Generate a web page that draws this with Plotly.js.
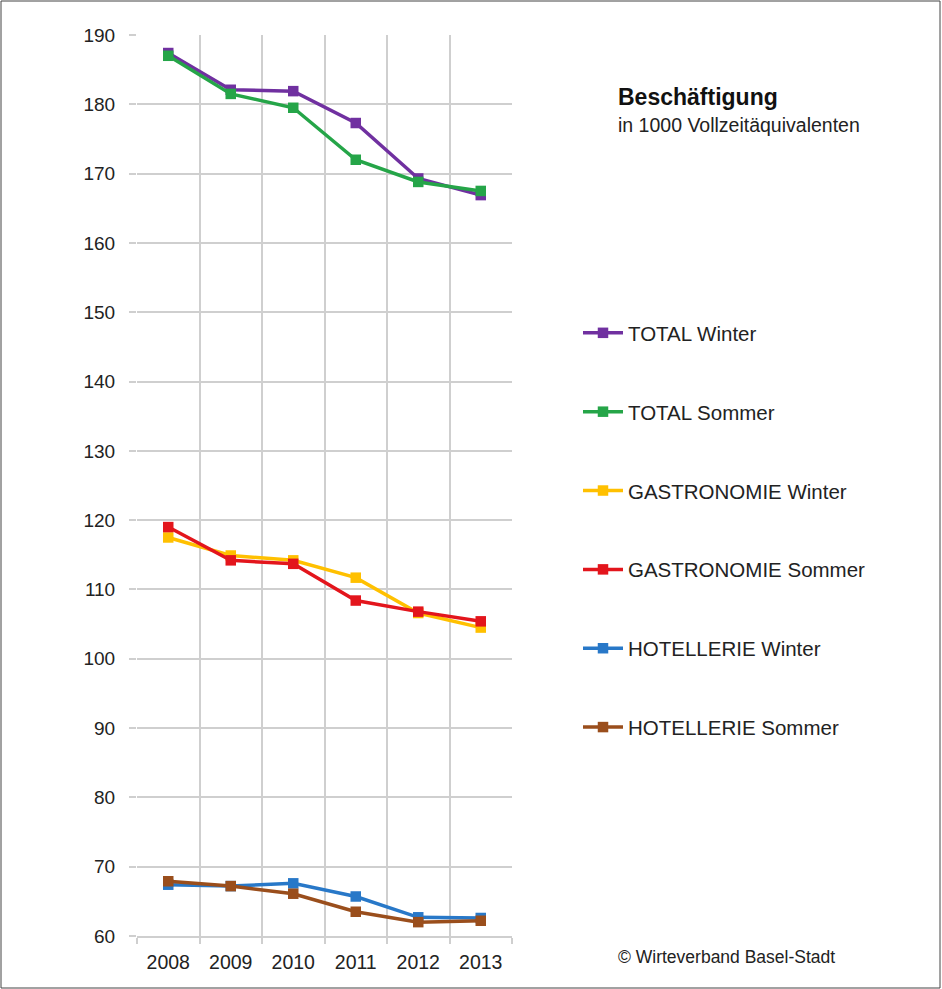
<!DOCTYPE html>
<html><head><meta charset="utf-8">
<script src="https://cdn.plot.ly/plotly-3.0.1.min.js"></script>
<style>html,body{margin:0;padding:0;background:#fff}</style>
</head><body>
<div id="chart" style="width:942px;height:989px"></div>
<script>
const years = ["2008","2009","2010","2011","2012","2013"];
const totalWinter = [187.4, 182.1, 181.9, 177.3, 169.3, 166.9];
const totalSommer = [187.0, 181.5, 179.5, 172.0, 168.8, 167.5];
const gastroWinter = [117.5, 114.9, 114.2, 111.7, 106.6, 104.5];
const gastroSommer = [119.0, 114.2, 113.7, 108.4, 106.8, 105.4];
const hotelWinter = [67.4, 67.2, 67.6, 65.7, 62.7, 62.6];
const hotelSommer = [67.9, 67.2, 66.1, 63.5, 62.0, 62.2];
const seriesNames = ["TOTAL Winter","TOTAL Sommer","GASTRONOMIE Winter","GASTRONOMIE Sommer","HOTELLERIE Winter","HOTELLERIE Sommer"];
const seriesColors = ["#7030A0","#25A548","#FFC000","#E3151C","#2878C8","#9A4E1C"];
const seriesData = [totalWinter,totalSommer,gastroWinter,gastroSommer,hotelWinter,hotelSommer];
const yTicks = [60,70,80,90,100,110,120,130,140,150,160,170,180,190];

const traces = seriesData.map((d,i)=>({
  type:"scatter", mode:"lines+markers", x:years, y:d, name:seriesNames[i],
  legendgroup:"g"+i,
  line:{color:seriesColors[i], width:3.5},
  marker:{symbol:"square", size:10.5, color:seriesColors[i]}
}));

const L=137, R=512, T=35, B=936;
const px = v => (v-L)/(R-L);
const py = v => (B-v)/(B-T);
const font = "Liberation Sans, Arial, sans-serif";

const layout = {
  width:942, height:989,
  margin:{l:L, r:942-R, t:T, b:989-B},
  paper_bgcolor:"#fff", plot_bgcolor:"#fff",
  font:{family:font, color:"#222", size:19},
  showlegend:true,
  legend:{x:px(578), y:py(313), xanchor:"left", yanchor:"top",
    font:{family:font, size:20.5, color:"#222"}, tracegroupgap:49.2, itemwidth:40,
    bgcolor:"rgba(0,0,0,0)"},
  xaxis:{type:"category", range:[-0.5,5.5], tickson:"boundaries",
    showgrid:true, gridcolor:"#cfcfcf", gridwidth:2,
    ticks:"outside", ticklen:6, tickcolor:"#cfcfcf", tickwidth:2,
    showline:true, linecolor:"#cfcfcf", linewidth:2,
    tickfont:{size:19.5, color:"#222"}, ticklabelstandoff:8, fixedrange:true},
  yaxis:{range:[60,190], tickvals:yTicks, showgrid:true, gridcolor:"#cfcfcf", gridwidth:2,
    ticks:"outside", ticklen:7, tickcolor:"#cfcfcf", tickwidth:2,
    showline:false, zeroline:false,
    tickfont:{size:19, color:"#222"}, ticklabelstandoff:10, fixedrange:true},
  annotations:[
    {xref:"paper", yref:"paper", x:px(616), y:py(97), xanchor:"left", yanchor:"middle",
     text:"<b>Beschäftigung</b>", showarrow:false, font:{family:font, size:23, color:"#111"}},
    {xref:"paper", yref:"paper", x:px(616), y:py(125), xanchor:"left", yanchor:"middle",
     text:"in 1000 Vollzeitäquivalenten", showarrow:false, font:{family:font, size:19.5, color:"#222"}},
    {xref:"paper", yref:"paper", x:px(616), y:py(957), xanchor:"left", yanchor:"middle",
     text:"© Wirteverband Basel-Stadt", showarrow:false, font:{family:font, size:17.5, color:"#222"}}
  ],
  shapes:[
    {type:"rect", xref:"paper", yref:"paper", x0:px(1), x1:px(940), y0:py(988), y1:py(1),
     line:{color:"#444", width:1}, fillcolor:"rgba(0,0,0,0)", layer:"below"}
  ]
};
Plotly.newPlot("chart", traces, layout, {displayModeBar:false, staticPlot:true});
</script>
</body></html>
